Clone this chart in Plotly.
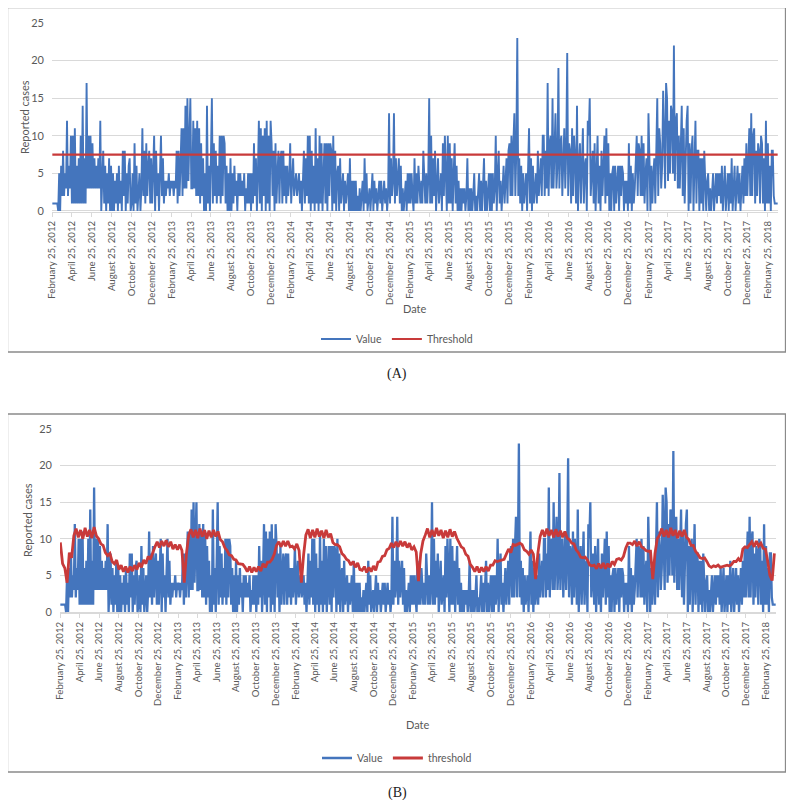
import pandas as pd
import plotly.graph_objects as go

START = "2012-02-25"

# Reported cases, one reading every 3 days, grouped in 2-month blocks (Feb 25, 2012 -> Mar 2018)
case_blocks = [
    [1,1,1,1,1,1,0,5,0,6,2,8,2,5,3,12,2,6,3,10],
    [1,10,1,11,1,6,1,7,1,10,1,14,1,7,1,17,3,10,3,10,3],
    [9,3,7,3,6,3,7,3,12,0,6,8,1,6,0,5,1,7,0,6],
    [0,5,0,4,1,5,0,6,1,4,0,8,2,8,0,5,1,6,7,0],
    [1,5,0,9,1,6,0,4,5,0,3,11,2,8,1,9,2,6,8,1,7],
    [1,6,10,0,8,2,5,0,4,10,2,7,1,4,2,4,3,5,2,4],
    [3,4,2,4,3,8,1,8,2,6,11,2,11,3,14,3,15,4,11,15,3],
    [3,12,3,11,2,12,2,11,1,9,2,7,0,5,0,14,1,6,0,7],
    [15,1,9,2,8,1,6,2,10,1,10,2,10,9,1,6,0,5,0,7],
    [0,5,1,6,2,4,0,5,2,5,2,4,2,5,0,3,1,5,1,5,0],
    [5,1,9,2,7,0,5,12,1,11,0,10,2,11,0,12,1,10,0,12],
    [9,2,8,0,9,1,5,8,1,7,8,1,8,2,6,1,6,2,4,9],
    [1,5,7,2,4,5,2,4,5,1,4,0,5,8,1,7,2,10,1,10,0],
    [8,1,6,0,11,1,7,0,10,1,9,0,7,9,1,9,0,9,2,9],
    [8,0,10,1,8,0,5,6,0,7,1,4,5,0,4,1,3,5,0,7],
    [0,4,0,4,0,4,0,2,0,3,0,2,4,0,7,1,5,0,2,3,0],
    [2,5,0,4,1,3,0,2,4,1,4,0,3,4,1,3,0,2,13,1],
    [7,2,4,13,1,7,2,5,7,1,6,0,3,0,2,4,0,5,1,5],
    [1,5,2,0,7,1,5,1,6,3,1,4,1,8,4,1,5,1,4,15,1],
    [10,1,7,2,8,0,5,7,1,4,5,0,9,2,10,5,0,10,1,9],
    [1,7,0,5,9,1,6,0,4,0,3,0,3,1,3,0,2,7,0,3,0],
    [3,0,2,5,0,2,0,3,5,0,4,0,3,7,0,4,0,3,5,0],
    [5,0,5,1,3,10,0,5,8,1,4,0,3,6,1,5,7,1,8,9],
    [2,10,2,9,13,2,8,23,2,7,1,6,0,5,1,3,5,0,4,11,1],
    [7,0,6,1,4,5,1,8,2,5,7,2,10,10,2,8,3,17,2,9],
    [10,3,15,3,7,13,3,6,19,3,9,10,2,8,11,3,8,21,2,9],
    [8,1,11,2,10,7,1,14,0,6,9,1,8,11,1,6,7,0,12,10,15],
    [2,5,8,1,9,0,7,10,1,6,0,8,2,7,10,1,11,2,9,0],
    [5,0,5,6,0,6,1,4,6,0,6,2,6,5,0,4,1,4,0,9],
    [1,6,0,5,1,3,6,10,2,9,8,2,10,2,9,1,5,7,0,13],
    [7,0,6,1,5,7,1,8,15,2,11,9,3,6,16,10,3,17,15,4],
    [12,5,14,13,5,22,4,12,13,3,10,3,8,14,2,11,1,9,12,14,0],
    [9,1,8,10,0,6,12,1,8,8,0,7,1,7,0,8,5,0,4,5],
    [0,3,0,2,5,0,3,5,1,5,2,5,1,6,0,4,6,0,4,5],
    [0,5,1,7,0,4,6,0,4,6,1,5,0,4,6,1,7,2,9,2,8],
    [11,2,13,2,10,11,1,8,2,9,8,1,10,9,1,7,0,12,1,9],
    [1,6,0,8,8,2,1,1,1,1],
]

# Panel A: constant threshold
threshold_a_level = 7.5

# Panel B: weekly seasonal threshold, one list per season (from Feb 25)
threshold_b_seasons = [
    [9.5,6.6,6.0,4.0,8.1,7.4,10.4,11.4,10.2,11.2,10.0,11.5,10.3,11.2,10.1,11.6,10.4,10.0,9.3,9.1,
     8.1,7.7,8.0,6.9,6.6,7.1,5.8,6.4,5.5,6.2,5.4,6.2,5.6,6.4,5.8,6.7,6.1,7.1,6.6,7.6,
     7.2,8.2,8.9,9.6,8.8,9.7,9.0,9.8,8.9,9.6,8.6,9.2],
    [8.5,9.2,8.4,4.0,8.0,10.5,11.3,10.2,11.2,10.1,11.4,10.3,11.2,10.0,11.1,10.2,11.2,10.3,11.0,9.9,
     9.6,8.8,8.4,7.8,7.7,7.2,7.1,6.6,6.6,6.5,6.1,5.5,6.2,5.4,6.1,5.5,6.2,5.6,6.6,6.1,
     6.8,6.8,7.2,7.9,9.1,9.6,8.9,9.7,9.0,9.7,8.9,9.0],
    [8.6,9.3,8.4,4.0,7.8,10.5,11.3,10.1,11.2,10.2,11.4,10.3,11.1,10.1,11.2,10.2,10.7,9.5,9.2,9.2,
     8.9,8.0,7.7,7.2,7.0,6.4,6.9,6.1,6.7,5.8,5.7,6.2,5.4,6.1,5.5,6.3,5.7,6.8,6.9,7.6,
     7.7,8.5,8.7,9.4,8.8,9.6,8.9,9.7,9.0,9.6,8.8,9.4,8.5],
    [8.9,8.2,4.2,8.0,9.7,10.5,11.4,10.2,11.2,10.3,11.5,10.4,11.2,10.1,11.1,10.2,11.3,10.3,11.0,10.1,
     9.5,8.9,8.7,7.9,7.6,6.5,6.1,5.5,6.2,5.4,6.1,5.5,6.2,5.6,6.4,6.4,7.0,6.9,7.0,7.1,
     7.2,7.9,8.6,8.1,9.2,9.1,9.2,9.4,9.2,8.5,8.3,7.9],
    [8.5,7.9,4.5,8.0,10.3,11.2,10.3,11.4,10.4,11.2,10.2,11.3,10.3,11.1,10.2,11.0,10.1,9.9,9.4,9.3,
     8.5,8.1,7.5,7.4,7.5,7.1,6.4,6.3,6.4,5.9,6.6,6.0,6.7,5.9,6.6,6.1,6.9,6.5,7.2,7.3,
     7.1,7.6,8.7,9.4,9.4,9.2,9.7,9.0,9.6,8.9,8.7,8.4,8.3,8.3],
    [4.5,8.0,10.0,10.5,11.4,10.3,11.2,10.2,11.5,10.4,11.2,10.1,11.1,10.3,11.2,10.2,9.9,9.1,9.1,8.3,
     7.9,7.4,7.3,7.4,6.9,6.3,6.1,6.3,6.2,6.4,6.1,6.2,6.2,6.4,6.3,6.5,6.9,6.9,7.3,6.9,
     8.6,8.9,8.8,9.2,9.6,8.9,9.7,9.0,9.4,8.7,8.6,7.0,5.0,4.3,8.0],
]

# x-axis ticks: the 25th of every second month
tick_years = list(range(2012, 2019))
tick_months = [2, 4, 6, 8, 10, 12]

reported_cases = [v for blk in case_blocks for v in blk]
case_dates = pd.date_range(START, periods=len(reported_cases), freq="3D")
threshold_b = [v for season in threshold_b_seasons for v in season]
threshold_b_dates = pd.date_range(START, periods=len(threshold_b), freq="7D")

tick_dates = [pd.Timestamp(y, m, 25) for y in tick_years for m in tick_months
              if pd.Timestamp(START) <= pd.Timestamp(y, m, 25) <= pd.Timestamp("2018-02-25")]
tick_text = [d.strftime("%B %d, %Y") for d in tick_dates]

BLUE = "#4475BD"
RED = "#C83A3A"
GREY_TXT = "#595959"
GRID = "#D9D9D9"
FONT = "Lato"

# The page body has an 8px margin: the figure is drawn 8px in from the window edge,
# so size it to the remaining window and convert window pixels to paper fractions.
OFF = 8
W, H = 794 - 2 * OFF, 808 - 2 * OFF


def px(x):
    return (x - OFF) / W


def py(y):
    return 1 - (y - OFF) / H


x_range = [case_dates[0] - pd.Timedelta(days=1), case_dates[-1] + pd.Timedelta(days=1)]

fig = go.Figure()

# Panel A
fig.add_trace(go.Scatter(x=case_dates, y=reported_cases, mode="lines", name="Value",
                         line=dict(color=BLUE, width=1.9), xaxis="x", yaxis="y",
                         legend="legend"))
fig.add_trace(go.Scatter(x=[case_dates[0], case_dates[-1]],
                         y=[threshold_a_level, threshold_a_level], mode="lines",
                         name="Threshold", line=dict(color=RED, width=2.2),
                         xaxis="x", yaxis="y", legend="legend"))
# Panel B
fig.add_trace(go.Scatter(x=case_dates, y=reported_cases, mode="lines", name="Value",
                         line=dict(color=BLUE, width=2.3), xaxis="x2", yaxis="y2",
                         legend="legend2"))
fig.add_trace(go.Scatter(x=threshold_b_dates, y=threshold_b, mode="lines",
                         name="threshold", line=dict(color=RED, width=2.8),
                         xaxis="x2", yaxis="y2", legend="legend2"))

xaxis_common = dict(type="date", range=x_range, tickvals=tick_dates, ticktext=tick_text,
                    tickangle=-90, showgrid=False, zeroline=False, showline=True,
                    linecolor=GRID, linewidth=1, ticks="outside", ticklen=4, tickcolor=GRID,
                    tickfont=dict(family=FONT, size=9.6, color=GREY_TXT))
yaxis_common = dict(range=[-0.15, 25.05], tickvals=[0, 5, 10, 15, 20, 25], showgrid=True,
                    gridcolor=GRID, gridwidth=1, zeroline=False, showline=False, ticks="",
                    ticklabelstandoff=7,
                    tickfont=dict(family=FONT, size=11, color=GREY_TXT))


def note(text, x, y, size=11, family=FONT, color=GREY_TXT, angle=0):
    return dict(text=text, x=px(x), y=py(y), xref="paper", yref="paper", showarrow=False,
                xanchor="center", yanchor="middle", textangle=angle,
                font=dict(family=family, size=size, color=color))


fig.update_layout(
    width=W, height=H,
    margin=dict(l=0, r=0, t=0, b=0, pad=0, autoexpand=False),
    paper_bgcolor="white", plot_bgcolor="white",
    font=dict(family=FONT, color=GREY_TXT),
    xaxis=dict(domain=[px(52), px(778)], anchor="y", automargin=False, **xaxis_common),
    yaxis=dict(domain=[py(212.1), py(22.6)], anchor="x", automargin=False, **yaxis_common),
    xaxis2=dict(domain=[px(60), px(776)], anchor="y2", automargin=False, **xaxis_common),
    yaxis2=dict(domain=[py(613.1), py(428.6)], anchor="x2", automargin=False, **yaxis_common),
    legend=dict(orientation="h", x=px(397), xanchor="center", y=py(339), yanchor="middle",
                font=dict(family=FONT, size=10.5, color=GREY_TXT), bgcolor="rgba(0,0,0,0)"),
    legend2=dict(orientation="h", x=px(397), xanchor="center", y=py(758), yanchor="middle",
                 font=dict(family=FONT, size=10.5, color=GREY_TXT), bgcolor="rgba(0,0,0,0)"),
    shapes=[
        dict(type="rect", xref="paper", yref="paper", x0=px(7.5), x1=px(785.5), y0=py(352),
             y1=py(7.5), line=dict(color="#8A8A8A", width=1.3), layer="below"),
        dict(type="rect", xref="paper", yref="paper", x0=px(7.5), x1=px(785.5), y0=py(772),
             y1=py(414), line=dict(color="#8A8A8A", width=1.3), layer="below"),
    ],
    annotations=[
        note("Reported cases", 24, 117, angle=-90),
        note("Date", 415, 309),
        note("(A)", 397, 374, size=14, family="Liberation Serif", color="#222222"),
        note("Reported cases", 27, 520, angle=-90),
        note("Date", 418, 724),
        note("(B)", 397, 793, size=14, family="Liberation Serif", color="#222222"),
    ],
)

fig.write_html("out.html")
